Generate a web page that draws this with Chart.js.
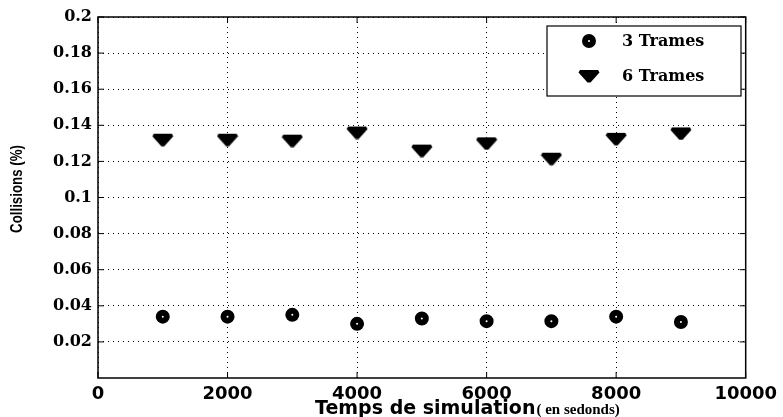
<!DOCTYPE html>
<html>
<head>
<meta charset="utf-8">
<script src="https://cdn.jsdelivr.net/npm/chart.js@4/dist/chart.umd.min.js"></script>
<style>
  html, body { margin: 0; background: #fff; }
  #wrap { width: 783px; height: 417px; }
</style>
</head>
<body>
<div id="wrap"><canvas id="c"></canvas></div>
<script>
const times = [1000, 2000, 3000, 4000, 5000, 6000, 7000, 8000, 9000];
const trames3 = [0.034, 0.034, 0.035, 0.030, 0.033, 0.0315, 0.0315, 0.034, 0.031];
const trames6 = [0.132, 0.132, 0.1315, 0.136, 0.126, 0.130, 0.1215, 0.1325, 0.1355];
const seriesNames = ['3 Trames', '6 Trames'];
const xTicks = [0, 2000, 4000, 6000, 8000, 10000];
const yTicks = [0.02, 0.04, 0.06, 0.08, 0.1, 0.12, 0.14, 0.16, 0.18, 0.2];

const serif = "'DejaVu Serif', serif";
const sans = "'DejaVu Sans', sans-serif";

// flat, wide downward triangle like the MATLAB 'v' marker
function makeTriangle() {
    const c = document.createElement('canvas');
    c.width = 22; c.height = 14;
    const g = c.getContext('2d');
    g.fillStyle = '#000';
    g.beginPath();
    g.moveTo(2, 1);
    g.lineTo(20, 1);
    g.lineTo(21.5, 3.5);
    g.lineTo(12.5, 13.5);
    g.lineTo(9.5, 13.5);
    g.lineTo(0.5, 3.5);
    g.closePath();
    g.fill();
    return c;
}
const triangle = makeTriangle();

// MATLAB-like frame: full box, inward ticks, legend box, axis titles
const framePlugin = {
    id: 'frame',
    afterDraw(chart) {
        const { ctx, chartArea: a, scales } = chart;
        ctx.save();
        ctx.strokeStyle = '#000';
        ctx.lineWidth = 1.5;
        ctx.strokeRect(a.left, a.top, a.right - a.left, a.bottom - a.top);

        ctx.lineWidth = 1;
        ctx.beginPath();
        xTicks.forEach(v => {
            const x = scales.x.getPixelForValue(v);
            ctx.moveTo(x, a.bottom); ctx.lineTo(x, a.bottom - 6);
            ctx.moveTo(x, a.top); ctx.lineTo(x, a.top + 6);
        });
        yTicks.forEach(v => {
            const y = scales.y.getPixelForValue(v);
            ctx.moveTo(a.left, y); ctx.lineTo(a.left + 6, y);
            ctx.moveTo(a.right, y); ctx.lineTo(a.right - 6, y);
        });
        ctx.stroke();

        // legend
        const lx = 547, ly = 26, lw = 194, lh = 70;
        ctx.fillStyle = '#fff';
        ctx.fillRect(lx, ly, lw, lh);
        ctx.lineWidth = 1.2;
        ctx.strokeRect(lx, ly, lw, lh);
        chart.data.datasets.forEach((ds, i) => {
            const cy = ly + 15 + i * 35;
            ctx.fillStyle = ds.backgroundColor;
            ctx.strokeStyle = ds.borderColor;
            ctx.lineWidth = ds.borderWidth;
            Chart.helpers.drawPoint(ctx, {
                pointStyle: ds.pointStyle,
                radius: ds.pointRadius,
                rotation: 0,
                borderWidth: ds.borderWidth
            }, 589, cy);
            ctx.fillStyle = '#000';
            ctx.font = 'bold 16px ' + serif;
            ctx.textAlign = 'left';
            ctx.textBaseline = 'middle';
            ctx.fillText(ds.label, 622, cy + 1);
        });

        // x title (two fonts, as in the original)
        const t1 = 'Temps de simulation';
        const t2 = '( en sedonds)';
        ctx.fillStyle = '#000';
        ctx.textBaseline = 'alphabetic';
        ctx.textAlign = 'left';
        ctx.font = 'bold 19px ' + sans;
        const w1 = ctx.measureText(t1).width;
        const sx = 315;
        ctx.fillText(t1, sx, 414);
        ctx.font = "bold 15px 'Liberation Serif', serif";
        ctx.fillText(t2, sx + w1 + 1, 414);

        // y title, a bit condensed like the original
        ctx.translate(18, 189);
        ctx.rotate(-Math.PI / 2);
        ctx.scale(0.83, 1);
        ctx.textAlign = 'center';
        ctx.textBaseline = 'middle';
        ctx.font = "bold 16px 'Liberation Sans', Arial, sans-serif";
        ctx.fillText('Collisions (%)', 0, 0);
        ctx.restore();
    }
};

new Chart(document.getElementById('c'), {
    type: 'scatter',
    data: {
        datasets: [
            {
                label: seriesNames[0],
                data: times.map((t, i) => ({ x: t, y: trames3[i] })),
                pointStyle: 'circle',
                pointRadius: 4,
                borderWidth: 6,
                backgroundColor: '#fff',
                borderColor: '#000',
            },
            {
                label: seriesNames[1],
                data: times.map((t, i) => ({ x: t, y: trames6[i] })),
                pointStyle: triangle,
                pointRadius: 9,
                borderWidth: 0,
                backgroundColor: '#000',
                borderColor: '#000',
            },
        ],
    },
    options: {
        responsive: true,
        maintainAspectRatio: false,
        animation: false,
        layout: { padding: { top: 17, right: 35, left: 0, bottom: 0 } },
        plugins: {
            legend: { display: false },
            tooltip: { enabled: false },
        },
        scales: {
            x: {
                type: 'linear',
                min: 0,
                max: 10000,
                afterBuildTicks: s => { s.ticks = xTicks.map(v => ({ value: v })); },
                afterFit: s => { s.height = 39; },
                grid: { color: '#000', lineWidth: 1, drawTicks: false },
                border: { display: false, dash: [1, 4] },
                ticks: {
                    color: '#000',
                    padding: 6,
                    font: { family: sans, size: 18, weight: 'bold' },
                    callback: v => String(v),
                },
            },
            y: {
                min: 0,
                max: 0.2,
                afterBuildTicks: s => { s.ticks = yTicks.map(v => ({ value: v })); },
                afterFit: s => { s.width = 98; },
                grid: { color: '#000', lineWidth: 1, drawTicks: false },
                border: { display: false, dash: [1, 4] },
                ticks: {
                    color: '#000',
                    padding: 6,
                    font: { family: serif, size: 16, weight: 'bold' },
                    callback: v => String(+v.toFixed(2)),
                },
            },
        },
    },
    plugins: [framePlugin],
});
</script>
</body>
</html>
